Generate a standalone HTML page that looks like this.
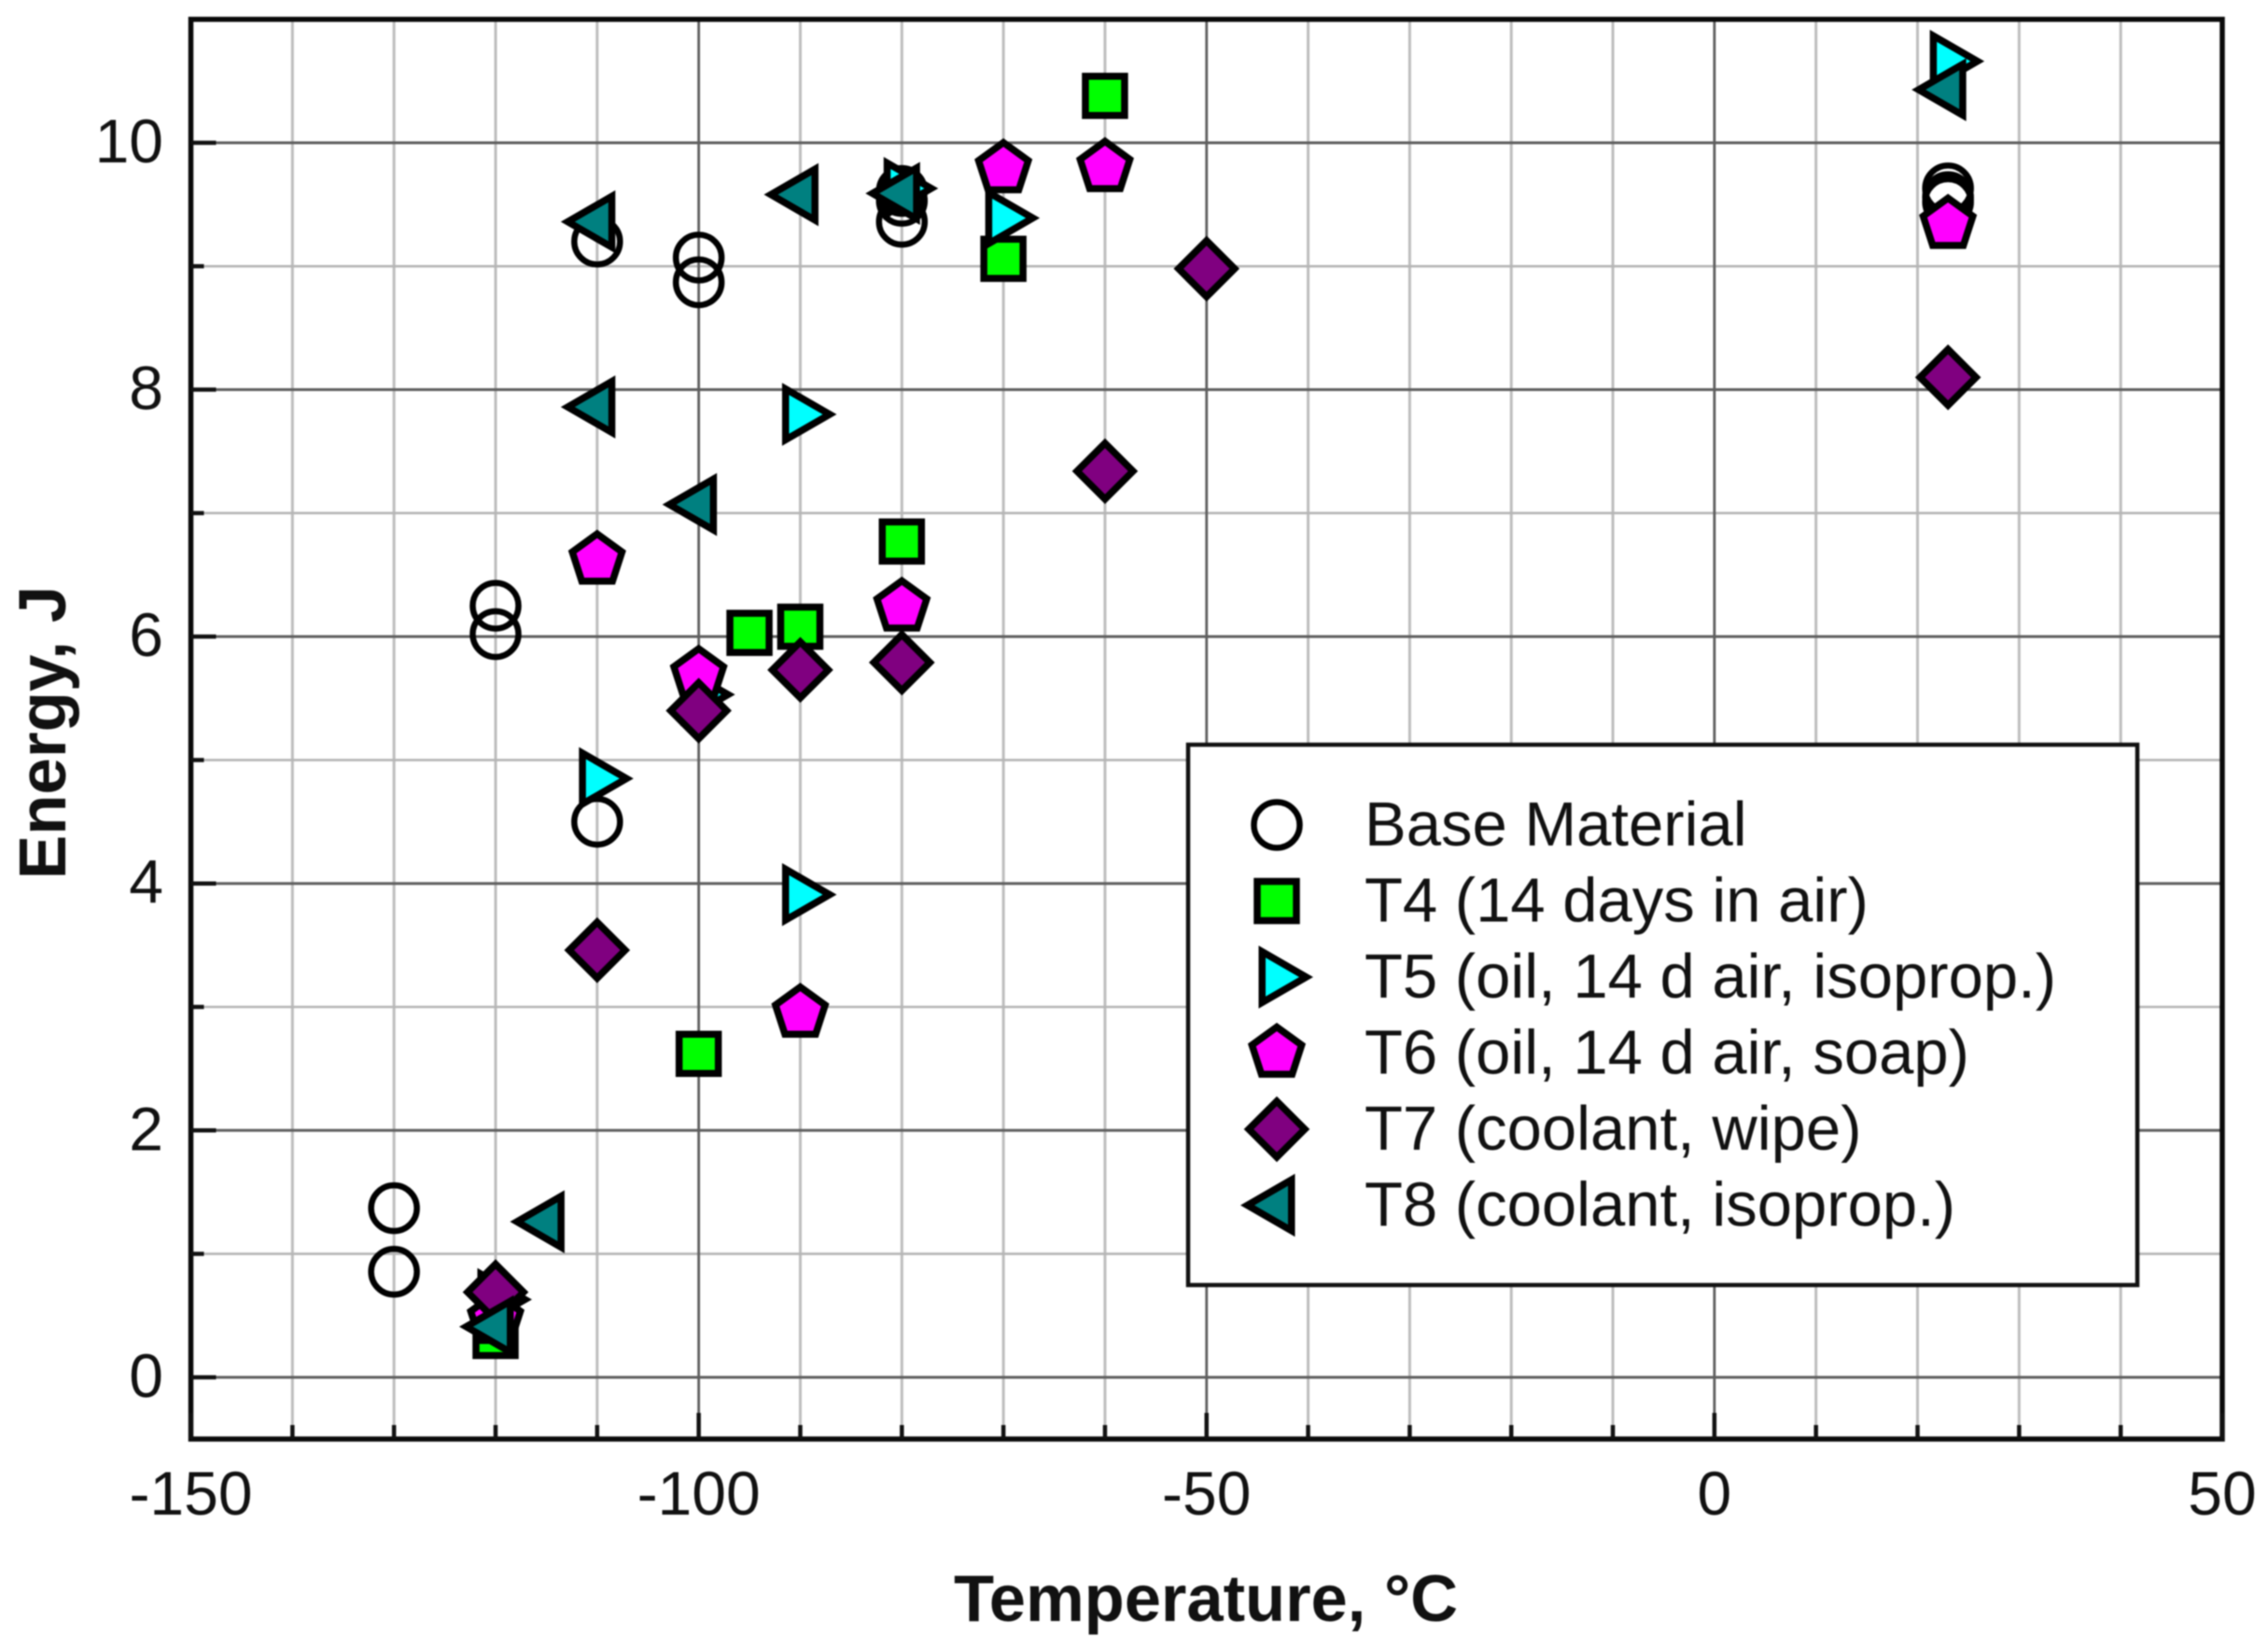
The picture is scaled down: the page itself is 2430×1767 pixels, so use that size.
<!DOCTYPE html>
<html lang="en">
<head>
<meta charset="utf-8">
<title>Energy vs Temperature</title>
<style>
html,body{margin:0;padding:0;background:#fff;}
svg{display:block;filter:blur(0.8px);}
text{font-family:"Liberation Sans",sans-serif;fill:#111;}
</style>
</head>
<body>
<svg id="chart" xmlns="http://www.w3.org/2000/svg" width="2430" height="1767" viewBox="0 0 2430 1767">
  <rect x="0" y="0" width="2430" height="1767" fill="#ffffff"/>
  <g id="grid"></g>
  <g id="marks"></g>
  <rect x="204.5" y="20.7" width="2176.5" height="1521.3" fill="none" stroke="#0a0a0a" stroke-width="5.5"/>
  <g id="ticks"></g>
  <g id="tick-labels"></g>
  <text x="1292" y="1737" font-size="70.5" font-weight="700" text-anchor="middle">Temperature, °C</text>
  <text transform="translate(70,785) rotate(-90)" font-size="71" font-weight="700" text-anchor="middle">Energy, J</text>
  <g id="legend">
    <rect x="1273" y="798" width="1017" height="579" fill="#ffffff" stroke="#111" stroke-width="4.5"/>
    <text x="1462" y="906" font-size="67">Base Material</text>
    <text x="1462" y="987.5" font-size="67">T4 (14 days in air)</text>
    <text x="1462" y="1069" font-size="67">T5 (oil, 14 d air, isoprop.)</text>
    <text x="1462" y="1150.5" font-size="67">T6 (oil, 14 d air, soap)</text>
    <text x="1462" y="1232" font-size="67">T7 (coolant, wipe)</text>
    <text x="1462" y="1313.5" font-size="67">T8 (coolant, isoprop.)</text>
  </g>
</svg>
<script>
// ---- chart data (temperature in deg C, energy in J) ----
const baseTemps = [-130, -130, -120, -120, -110, -110, -100, -100, -80, -80, -80, 23, 23, 23];
const baseEnergy = [1.37, 0.855, 6.25, 6.02, 9.2, 4.5, 9.07, 8.87, 9.36, 9.53, 9.61, 9.63, 9.56, 9.52];
const t4Temps = [-120, -100, -95, -90, -80, -70, -60];
const t4Energy = [0.335, 2.62, 6.03, 6.08, 6.77, 9.06, 10.38];
const t5Temps = [-120, -110, -100, -90, -90, -80, -70, 23];
const t5Energy = [0.63, 4.85, 5.53, 7.8, 3.91, 9.63, 9.39, 10.66];
const t6Temps = [-120, -110, -100, -90, -80, -70, -60, 23];
const t6Energy = [0.47, 6.62, 5.69, 2.95, 6.24, 9.79, 9.8, 9.34];
const t7Temps = [-120, -110, -100, -90, -80, -60, -50, 23];
const t7Energy = [0.69, 3.46, 5.4, 5.73, 5.79, 7.34, 8.98, 8.1];
const t8Temps = [-120, -115, -110, -110, -100, -90, -80, 23];
const t8Energy = [0.41, 1.26, 9.36, 7.86, 7.07, 9.58, 9.59, 10.43];
const xTickLabels = [-150, -100, -50, 0, 50];
const yTickLabels = [0, 2, 4, 6, 8, 10];
const xMinorTicks = [-140, -130, -120, -110, -90, -80, -70, -60, -40, -30, -20, -10, 10, 20, 30, 40];
const yMinorTicks = [1, 3, 5, 7, 9];

const NS = 'http://www.w3.org/2000/svg';
const plotLeft = 204.5, plotRight = 2381, plotTop = 20.7, plotBottom = 1542;
const xMin = -150, xMax = 50, yMin = -0.5, yMax = 11;
function xScale(v) { return plotLeft + (v - xMin) / (xMax - xMin) * (plotRight - plotLeft); }
function yScale(v) { return plotBottom - (v - yMin) / (yMax - yMin) * (plotBottom - plotTop); }

function makeLine(parent, x1, y1, x2, y2, color, width) {
  const l = document.createElementNS(NS, 'line');
  l.setAttribute('x1', x1);
  l.setAttribute('y1', y1);
  l.setAttribute('x2', x2);
  l.setAttribute('y2', y2);
  l.setAttribute('stroke', color);
  l.setAttribute('stroke-width', width);
  parent.appendChild(l);
  return l;
}

const gridGroup = document.getElementById('grid');
const tickGroup = document.getElementById('ticks');
const labelGroup = document.getElementById('tick-labels');

xMinorTicks.forEach(function (v) {
  const g = makeLine(gridGroup, xScale(v), plotTop, xScale(v), plotBottom, '#bdbdbd', 3);
  
  
  const t = makeLine(tickGroup, xScale(v), plotBottom, xScale(v), plotBottom - 15, '#111', 4.5);
  
  
});
yMinorTicks.forEach(function (v) {
  const g = makeLine(gridGroup, plotLeft, yScale(v), plotRight, yScale(v), '#b5b5b5', 2.6);
  
  
  const t = makeLine(tickGroup, plotLeft, yScale(v), plotLeft + 14, yScale(v), '#111', 4.5);
  
  
});
xTickLabels.forEach(function (v) {
  const g = makeLine(gridGroup, xScale(v), plotTop, xScale(v), plotBottom, '#5e5e5e', 2.8);
  
  
  const t = makeLine(tickGroup, xScale(v), plotBottom, xScale(v), plotBottom - 28, '#111', 4.5);
  
  
  const txt = document.createElementNS(NS, 'text');
  
  
  txt.setAttribute('x', xScale(v));
  txt.setAttribute('y', 1623);
  txt.setAttribute('font-size', '66');
  txt.setAttribute('text-anchor', 'middle');
  txt.textContent = String(v);
  labelGroup.appendChild(txt);
});
yTickLabels.forEach(function (v) {
  const g = makeLine(gridGroup, plotLeft, yScale(v), plotRight, yScale(v), '#5e5e5e', 3);
  
  
  const t = makeLine(tickGroup, plotLeft, yScale(v), plotLeft + 27, yScale(v), '#111', 4.5);
  
  
  const txt = document.createElementNS(NS, 'text');
  
  
  txt.setAttribute('x', 175);
  txt.setAttribute('y', yScale(v) + 21);
  txt.setAttribute('font-size', '66');
  txt.setAttribute('text-anchor', 'end');
  txt.textContent = String(v);
  labelGroup.appendChild(txt);
});

function regularPoints(cx, cy, r, n, startDeg) {
  const pts = [];
  for (let i = 0; i < n; i++) {
    const a = (startDeg + i * 360 / n) * Math.PI / 180;
    pts.push((cx + r * Math.cos(a)).toFixed(2) + ',' + (cy + r * Math.sin(a)).toFixed(2));
  }
  return pts.join(' ');
}

function drawMarker(shape, fill, cx, cy) {
  let el;
  if (shape === 'circle') {
    el = document.createElementNS(NS, 'circle');
    el.setAttribute('cx', cx);
    el.setAttribute('cy', cy);
    el.setAttribute('r', 24.5);
    el.setAttribute('stroke-width', 6.5);
  } else if (shape === 'square') {
    el = document.createElementNS(NS, 'rect');
    el.setAttribute('x', cx - 21);
    el.setAttribute('y', cy - 21);
    el.setAttribute('width', 42);
    el.setAttribute('height', 42);
    el.setAttribute('stroke-width', 7.5);
  } else {
    el = document.createElementNS(NS, 'polygon');
    let pts = '';
    if (shape === 'tri-right') pts = regularPoints(cx, cy, 31.5, 3, 0);
    if (shape === 'tri-left') pts = regularPoints(cx, cy, 31.5, 3, 180);
    if (shape === 'pentagon') pts = regularPoints(cx, cy, 28, 5, -90);
    if (shape === 'diamond') pts = regularPoints(cx, cy, 30, 4, 0);
    el.setAttribute('points', pts);
    el.setAttribute('stroke-width', 7.5);
    el.setAttribute('stroke-linejoin', 'miter');
  }
  el.setAttribute('fill', fill);
  el.setAttribute('stroke', '#000');
  return el;
}

const marksGroup = document.getElementById('marks');
const legendGroup = document.getElementById('legend');
const legendX = 1368, legendY0 = 884, legendStep = 81.5;

function drawSeries(name, shape, fill, temps, energy, row) {
  const g = document.createElementNS(NS, 'g');
  
  
  temps.forEach(function (t, i) {
    const m = drawMarker(shape, fill, xScale(t), yScale(energy[i]));
    
    
    g.appendChild(m);
  });
  marksGroup.appendChild(g);
  const lm = drawMarker(shape, fill, legendX, legendY0 + row * legendStep);
  
  
  legendGroup.appendChild(lm);
}

drawSeries('base-material', 'circle', 'none', baseTemps, baseEnergy, 0);
drawSeries('t4', 'square', '#00ff00', t4Temps, t4Energy, 1);
drawSeries('t5', 'tri-right', '#00ffff', t5Temps, t5Energy, 2);
drawSeries('t6', 'pentagon', '#ff00ff', t6Temps, t6Energy, 3);
drawSeries('t7', 'diamond', '#800080', t7Temps, t7Energy, 4);
drawSeries('t8', 'tri-left', '#008080', t8Temps, t8Energy, 5);
</script>
</body>
</html>
